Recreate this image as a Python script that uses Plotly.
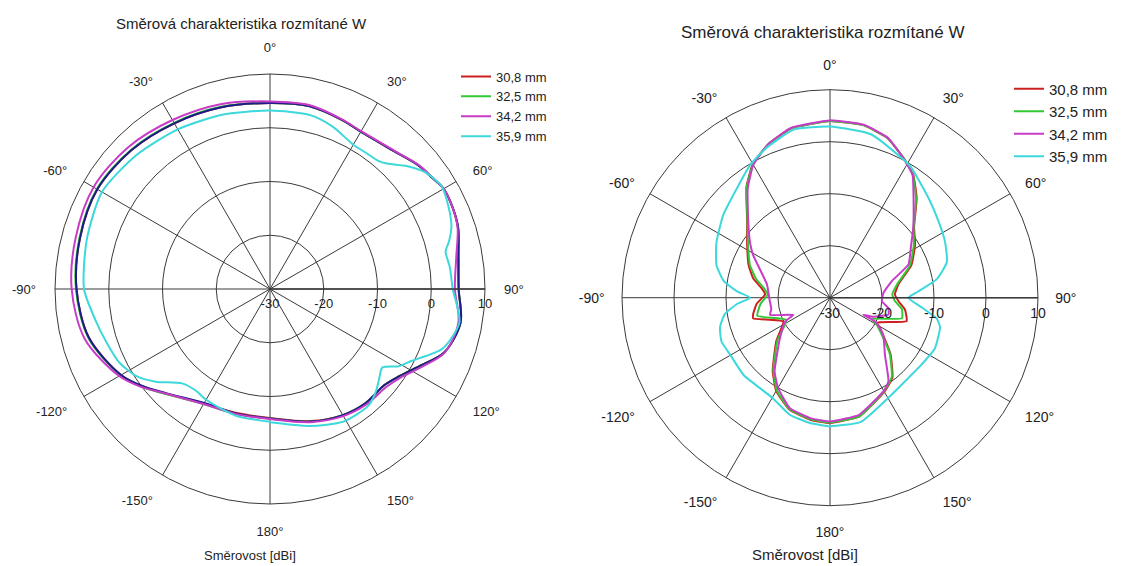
import plotly.graph_objects as go

# ---------------- data : left chart ----------------
L_mag_theta = [-180,-165,-150,-135,-127,-120,-105,-90,-75,-60,-45,-30,-15,0,12,23,30,42,50,55,60,66,72,80,90,100,110,117,124,130,140,150,163,180]
L_mag_r     = [-5.8,-5.9,-5.3,-2.5,0.2,2.4,5.7,6.9,7.4,7.9,7.3,6.3,5.6,4.9,5.0,4.3,3.9,4.6,6.0,6.6,7.3,7.2,6.7,5.2,4.4,5.6,4.6,1.8,-0.6,-1.7,-2.0,-2.7,-4.1,-5.8]

L_nav_theta = [-180,-165,-150,-135,-127,-120,-105,-90,-75,-60,-45,-30,-15,0,12,23,30,42,50,55,60,66,72,80,90,100,110,117,124,130,140,150,163,180]
L_nav_r     = [-5.9,-6.0,-5.5,-2.6,-0.1,2.0,4.9,6.0,6.6,7.1,6.5,5.6,5.0,4.6,4.8,4.2,3.8,4.5,5.9,6.5,7.3,7.2,6.8,5.6,5.1,6.0,4.5,1.4,-1.0,-2.2,-2.3,-2.9,-4.2,-5.9]

L_red_r     = [-6.0,-6.1,-5.4,-2.5,0.0,2.0,4.9,6.0,6.6,7.1,6.5,5.6,5.0,4.6,4.8,4.2,3.8,4.5,5.9,6.5,7.3,7.2,6.8,5.6,5.1,6.0,4.5,1.4,-1.0,-2.2,-2.3,-2.9,-4.3,-6.0]
L_grn_r     = [-5.9,-5.9,-5.3,-2.4,0.1,2.1,5.0,6.1,6.7,7.2,6.6,5.7,5.1,4.6,4.8,4.2,3.8,4.5,5.9,6.5,7.3,7.2,6.8,5.6,5.1,6.0,4.5,1.4,-1.0,-2.2,-2.3,-2.9,-4.2,-5.9]

L_cyan_theta = [-180,-165,-150,-144,-137,-129,-123,-116,-108,-100,-90,-75,-60,-45,-30,-15,0,13,21,30,35,40,43,48,53,59,65,71,75,78,83,90,100,109,117,121,125,129,134,140,151,164,180]
L_cyan_r     = [-5.3,-5.6,-6.2,-6.6,-6.0,-2.6,-0.3,1.2,2.0,3.0,4.6,5.3,6.1,5.2,4.3,3.6,3.2,3.2,2.4,1.0,1.0,1.2,1.9,4.2,6.1,7.2,6.6,5.7,4.5,3.4,3.7,4.0,5.8,4.0,-0.5,-2.1,-4.5,-3.8,-2.6,-1.6,-1.8,-3.5,-5.2]

# ---------------- data : right chart ----------------
R_mag_theta = [-180,-171,-160,-150,-143,-129,-118,-115,-106,-101,-93,-78,-61,-56,-47,-37,-30,-22,-13,0,11,20,28,34,40,50,57,67,75,85,94,100,106,114,117,118,125,136,145,150,166,180]
R_mag_r     = [-6.2,-6.5,-7.4,-10.0,-12.3,-17.6,-20.2,-22.2,-18.0,-18.5,-18.4,-17.6,-13.1,-11.5,-8.5,-3.7,-0.5,1.8,3.5,4.1,3.9,2.7,0.2,-1.6,-5.0,-9.1,-11.4,-13.6,-17.7,-19.7,-20.0,-18.6,-18.3,-21.0,-22.8,-20.0,-17.5,-14.8,-10.4,-9.3,-6.8,-6.2]

R_red_theta = [-180,-171,-160,-150,-142,-129,-117,-105,-102,-95,-87,-82,-76,-68,-57,-47,-37,-30,-22,-13,0,11,20,28,34,41,50,58,68,79,87,93,99,107,118,121,133,142,150,166,180]
R_red_r     = [-5.9,-6.2,-7.1,-9.3,-12.1,-16.7,-19.9,-14.7,-14.9,-15.8,-17.5,-16.7,-14.8,-13.1,-11.0,-8.2,-3.3,-0.3,1.8,3.4,4.0,3.8,2.6,0.3,-1.4,-4.6,-8.9,-10.7,-13.1,-16.6,-17.5,-16.8,-15.4,-14.6,-19.8,-18.8,-14.1,-10.5,-9.1,-6.5,-5.9]

R_grn_theta = [-180,-171,-160,-150,-142,-129,-117,-104,-95,-87,-82,-76,-68,-57,-47,-37,-30,-22,-13,0,11,20,28,34,41,50,58,68,79,87,93,99,106,117,120,133,142,150,166,180]
R_grn_r     = [-6.0,-6.3,-7.2,-9.5,-12.3,-17.0,-20.6,-15.6,-16.6,-18.0,-17.2,-15.4,-13.4,-11.2,-8.3,-3.4,-0.4,1.8,3.4,4.0,3.8,2.6,0.3,-1.5,-4.8,-9.0,-11.0,-13.4,-16.9,-18.0,-17.5,-16.0,-15.6,-21.0,-19.6,-14.3,-10.7,-9.2,-6.5,-6.0]

R_cyan_theta = [-180,-171,-161,-150,-142,-132,-120,-112,-105,-99,-94,-90,-86,-81,-74,-64,-52,-40,-31,-23,-12,0,14,27,32,45,56,64,73,80,86,90,96,101,105,116,126,138,150,166,180]
R_cyan_r     = [-5.3,-5.6,-6.2,-7.8,-8.0,-7.7,-7.9,-7.5,-8.1,-9.5,-12.0,-14.6,-12.0,-9.3,-7.3,-5.7,-4.0,-2.3,-0.2,1.3,3.1,2.9,2.4,0.2,-0.5,-3.1,-4.6,-5.4,-6.5,-9.1,-13.0,-14.9,-12.3,-9.1,-8.1,-7.6,-8.2,-8.4,-7.7,-5.4,-5.3]

series_names = ["30,8 mm", "32,5 mm", "34,2 mm", "35,9 mm"]
series_colors = ["#cc2020", "#33c833", "#c83cc8", "#3cd8dc"]
navy_color = "#1c1c8a"

ang_vals = [0, 30, 60, 90, 120, 150, 180, 210, 240, 270, 300, 330]
ang_text = ["0°", "30°", "60°", "90°", "120°", "150°", "180°", "-150°", "-120°", "-90°", "-60°", "-30°"]
rad_vals = [-30, -20, -10, 0, 10]
rad_text = ["-30", "-20", "-10", "0", "10"]

title_text = "Směrová charakteristika rozmítané W"
xlabel_text = "Směrovost [dBi]"

FONT = "Liberation Sans, Arial, sans-serif"
GRID = "#3a3a3a"
W, H = 1131, 566

fig = go.Figure()

def add(theta, r, name, color, subplot, legend, show=True, smooth=0.6):
    fig.add_trace(go.Scatterpolar(
        theta=theta, r=r, mode="lines", name=name,
        line=dict(color=color, width=2, shape="spline", smoothing=smooth),
        subplot=subplot, legend=legend, showlegend=show))

# left chart
add(L_nav_theta, L_red_r, series_names[0], series_colors[0], "polar", "legend", smooth=0.9)
add(L_nav_theta, L_grn_r, series_names[1], series_colors[1], "polar", "legend", smooth=0.9)
add(L_nav_theta, L_nav_r, "", navy_color, "polar", "legend", show=False, smooth=0.9)
add(L_mag_theta, L_mag_r, series_names[2], series_colors[2], "polar", "legend", smooth=0.9)
add(L_cyan_theta, L_cyan_r, series_names[3], series_colors[3], "polar", "legend", smooth=0.7)

# right chart
add(R_red_theta, R_red_r, series_names[0], series_colors[0], "polar2", "legend2", smooth=0.4)
add(R_grn_theta, R_grn_r, series_names[1], series_colors[1], "polar2", "legend2", smooth=0.4)
add(R_mag_theta, R_mag_r, series_names[2], series_colors[2], "polar2", "legend2", smooth=0.4)
add(R_cyan_theta, R_cyan_r, series_names[3], series_colors[3], "polar2", "legend2", smooth=0.5)

def polar_cfg(cx, cy, rad, fs, tl):
    # cx, cy: centre in figure pixels (from top-left), rad: radius in pixels
    return dict(
        domain=dict(x=[(cx - rad) / W, (cx + rad) / W],
                    y=[(H - cy - rad) / H, (H - cy + rad) / H]),
        bgcolor="white",
        angularaxis=dict(
            rotation=90, direction="clockwise",
            tickmode="array", tickvals=ang_vals, ticktext=ang_text,
            showline=True, linecolor=GRID, linewidth=1,
            gridcolor=GRID, gridwidth=1,
            ticks="outside", ticklen=tl, tickcolor="rgba(0,0,0,0)",
            tickfont=dict(size=fs, color="#222", family=FONT)),
        radialaxis=dict(
            range=[-30, 10], tickmode="array", tickvals=rad_vals, ticktext=rad_text,
            angle=0, side="clockwise", showline=True, linecolor=GRID, linewidth=1.5,
            gridcolor=GRID, gridwidth=1,
            ticks="outside", ticklen=3, tickcolor="rgba(0,0,0,0)",
            tickfont=dict(size=fs, color="#222", family=FONT)),
    )

# the html body adds an 8 px offset; positions below are in figure pixels
def px(x):
    return x / W

def py(y):
    return 1 - y / H

fig.update_layout(
    width=W, height=H,
    margin=dict(l=0, r=0, t=0, b=0),
    paper_bgcolor="white", plot_bgcolor="white",
    font=dict(family=FONT, color="#222"),
    polar=polar_cfg(262, 281, 215, 13, 16),
    polar2=polar_cfg(822, 289.7, 208, 14, 14),
    legend=dict(x=px(448), y=py(53.5), xanchor="left", yanchor="top",
                bgcolor="rgba(0,0,0,0)", font=dict(size=13, family=FONT, color="#222"),
                tracegroupgap=0, itemwidth=30),
    legend2=dict(x=px(1001), y=py(64.5), xanchor="left", yanchor="top",
                 bgcolor="rgba(0,0,0,0)", font=dict(size=15, family=FONT, color="#222"),
                 tracegroupgap=0, itemwidth=30),
    annotations=[
        dict(text=title_text, x=px(233), y=py(16), xref="paper", yref="paper",
             xanchor="center", yanchor="middle",
             showarrow=False, font=dict(size=15, family=FONT, color="#222")),
        dict(text=title_text, x=px(814), y=py(25), xref="paper", yref="paper",
             xanchor="center", yanchor="middle",
             showarrow=False, font=dict(size=17, family=FONT, color="#222")),
        dict(text=xlabel_text, x=px(242), y=py(547), xref="paper", yref="paper",
             xanchor="center", yanchor="middle",
             showarrow=False, font=dict(size=13, family=FONT, color="#222")),
        dict(text=xlabel_text, x=px(796.5), y=py(546), xref="paper", yref="paper",
             xanchor="center", yanchor="middle",
             showarrow=False, font=dict(size=15, family=FONT, color="#222")),
    ],
)

fig.write_html("out.html")
